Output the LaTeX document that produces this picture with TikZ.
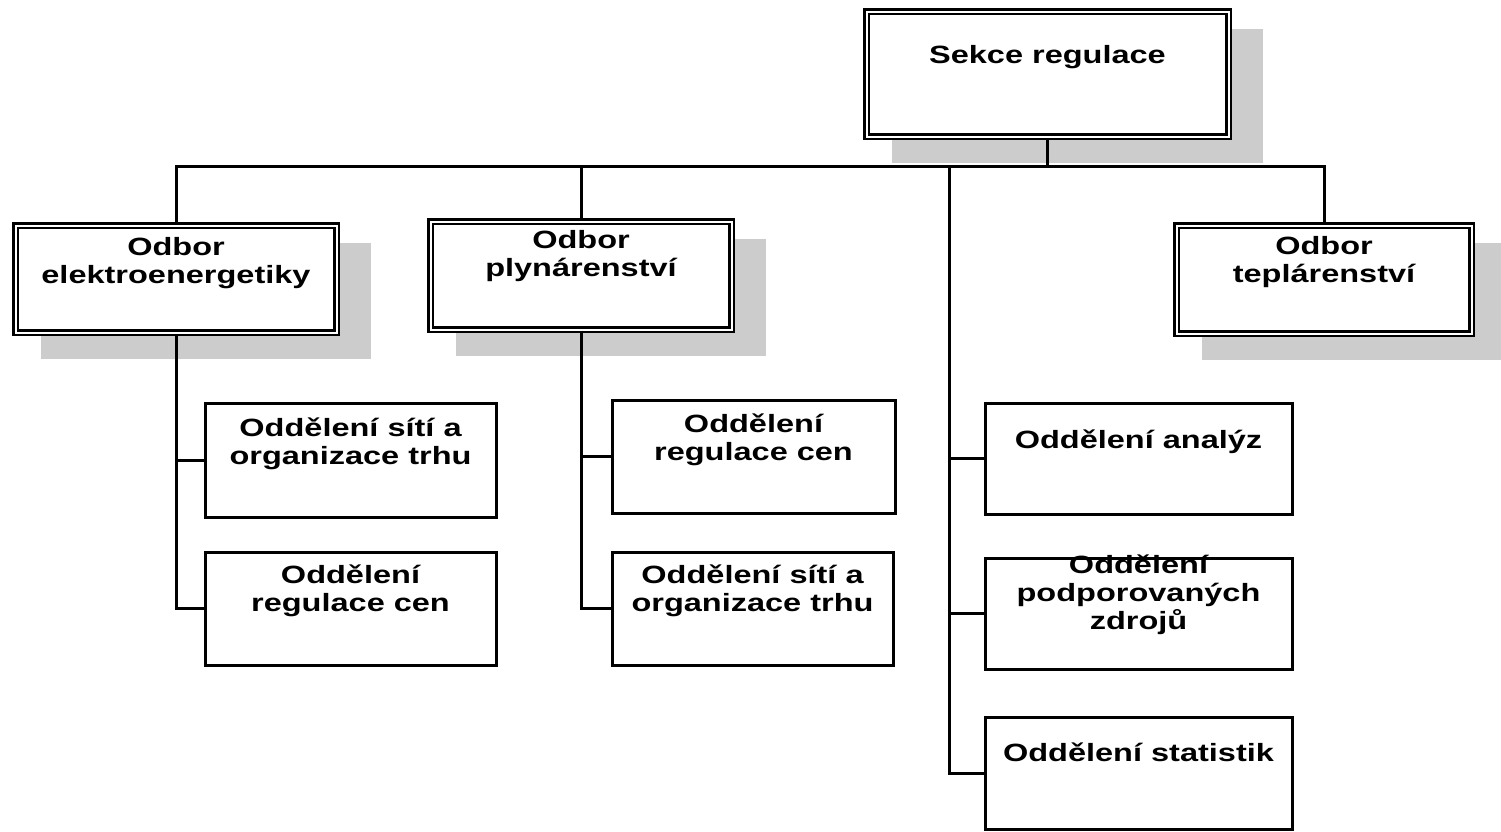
\documentclass[tikz,border=0pt]{standalone}
\usepackage{fontspec}
\newfontfamily\labfont{Liberation Sans}[FakeStretch=1.3]
\usetikzlibrary{backgrounds,calc}
\tikzset{
  odbor/.style={rectangle, draw=black, line width=2.5pt, double=white, double distance=2pt, fill=white, inner sep=0pt},
  oddel/.style={rectangle, draw=black, line width=3pt, fill=white, inner sep=0pt},
  txt/.style={font=\labfont\bfseries\fontsize{25pt}{28pt}\selectfont, align=center, inner sep=0pt, anchor=base},
  conn/.style={draw=black, line width=3pt, line join=miter},
  shadowfill/.style={fill=black!20}
}
\begin{document}
\begin{tikzpicture}[x=1pt, y=-1pt]
\useasboundingbox (0,0) rectangle (1501,831);
% top-level
\node[odbor, minimum width=362pt, minimum height=125pt] (sekce) at (1047.5,74) {};
\node[odbor, minimum width=321pt, minimum height=107pt] (elek) at (176,279) {};
\node[odbor, minimum width=301pt, minimum height=108pt] (plyn) at (581,275.5) {};
\node[odbor, minimum width=295pt, minimum height=108pt] (tepl) at (1324,279.5) {};
% shadows
\begin{scope}[on background layer]
  \foreach \n in {sekce,elek,plyn,tepl}
    \fill[shadowfill] ($(\n.north west)+(26.5,18.5)$) rectangle ($(\n.south east)+(33.5,25.5)$);
\end{scope}
% departments
\node[oddel, minimum width=291pt, minimum height=114pt] (e1) at (350.5,460) {};
\node[oddel, minimum width=291pt, minimum height=113pt] (e2) at (350.5,608.5) {};
\node[oddel, minimum width=283pt, minimum height=113pt] (p1) at (753.5,456.5) {};
\node[oddel, minimum width=281pt, minimum height=113pt] (p2) at (752.5,608.5) {};
\node[oddel, minimum width=307pt, minimum height=111pt] (m1) at (1138.5,458.5) {};
\node[oddel, minimum width=307pt, minimum height=111pt] (m2) at (1138.5,613.5) {};
\node[oddel, minimum width=307pt, minimum height=112pt] (m3) at (1138.5,773) {};
% texts (anchor = baseline of the last line)
\node[txt] (sekce-t) at ($(sekce.north)+(0,53.5)$) {Sekce regulace};
\node[txt] (elek-t) at ($(elek.north)+(0,59.5)$) {Odbor\\elektroenergetiky};
\node[txt] (plyn-t) at ($(plyn.north)+(0,56.5)$) {Odbor\\plynárenství};
\node[txt] (tepl-t) at ($(tepl.north)+(0,58.5)$) {Odbor\\teplárenství};
\node[txt] (e1-t) at ($(e1.north)+(0,62.5)$) {Oddělení sítí a\\organizace trhu};
\node[txt] (e2-t) at ($(e2.north)+(0,60.5)$) {Oddělení\\regulace cen};
\node[txt] (p1-t) at ($(p1.north)+(0,61.5)$) {Oddělení\\regulace cen};
\node[txt] (p2-t) at ($(p2.north)+(0,60.5)$) {Oddělení sítí a\\organizace trhu};
\node[txt] (m1-t) at ($(m1.north)+(0,47)$) {Oddělení analýz};
\node[txt] (m2-t) at ($(m2.north)+(0,72.5)$) {Oddělení\\podporovaných\\zdrojů};
\node[txt] (m3-t) at ($(m3.north)+(0,46)$) {Oddělení statistik};
% connectors
\coordinate (bus) at (0,166);
\coordinate (mid) at (949,166);
\draw[conn] (sekce.south) -- (sekce.south |- bus);
\draw[conn] (elek.north) -- (elek.north |- bus) -- (tepl.north |- bus) -- (tepl.north);
\draw[conn] (plyn.north) -- (plyn.north |- bus);
\draw[conn] (elek.south) |- (e2.west);
\draw[conn] (elek.south |- e1.west) -- (e1.west);
\draw[conn] (plyn.south) |- (p2.west);
\draw[conn] (plyn.south |- p1.west) -- (p1.west);
\draw[conn] (mid) |- (m3.west);
\draw[conn] (mid |- m1.west) -- (m1.west);
\draw[conn] (mid |- m2.west) -- (m2.west);
\end{tikzpicture}
\end{document}
